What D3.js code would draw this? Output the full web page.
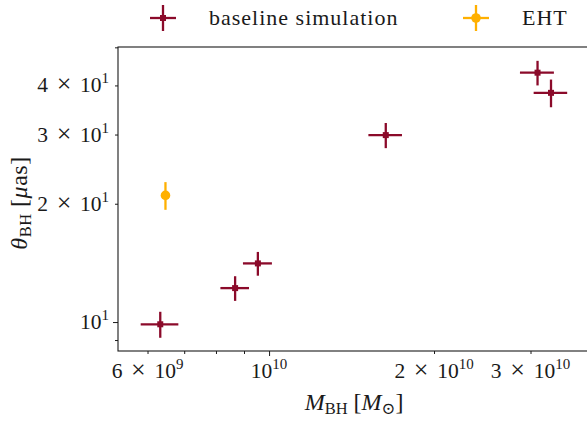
<!DOCTYPE html>
<html><head><meta charset="utf-8">
<script src="https://cdn.jsdelivr.net/npm/d3@7"></script>
<style>body{margin:0;background:#fff}svg{display:block}</style>
</head><body>
<svg id="c" width="587" height="423" font-family="Liberation Serif, DejaVu Serif, serif"></svg>
<script>
// ---- data ----
const simMass = [6.33e9, 8.67e9, 9.54e9, 1.633e10, 3.09e10, 3.27e10];
const simMassErr = [0.5e9, 0.52e9, 0.58e9, 1.15e9, 2.2e9, 2.3e9];
const simTheta = [9.87, 12.2, 14.1, 29.9, 43.1, 38.3];
const simThetaErr = [0.75, 0.88, 0.98, 2.2, 3.1, 3.1];
const ehtMass = [6.47e9];
const ehtMassErr = [0.1e9];
const ehtTheta = [21.0];
const ehtThetaErr = [1.7];
const xTickValues = [6e9, 1e10, 2e10, 3e10];
const xTickMant = ["6", "", "2", "3"];
const xTickExp = ["9", "10", "10", "10"];
const xMinorTicks = [6e9, 7e9, 8e9, 9e9, 2e10, 3e10];
const yTickValues = [10, 20, 30, 40];
const yTickMant = ["", "2", "3", "4"];
const yTickExp = ["1", "1", "1", "1"];
const yMinorTicks = [9, 20, 30, 40, 50];
const seriesNames = ["baseline simulation", "EHT"];
const simColor = "#8b0a2a", ehtColor = "#ffb000";

const svg = d3.select("#c");
const L = 118, R = 588, T = 47, B = 351;
const x = d3.scaleLog().domain([5.30e9, 3.82e10]).range([L, R]);
const y = d3.scaleLog().domain([8.44, 50.1]).range([B, T]);
const ink = "#1a1a1a";

// frame
svg.append("rect").attr("x", L).attr("y", T).attr("width", R - L).attr("height", B - T)
  .attr("fill", "none").attr("stroke", ink).attr("stroke-width", 1.1);

// x axis ticks
const gx = svg.append("g").attr("transform", `translate(0,${B})`);
gx.call(d3.axisBottom(x).tickValues([1e10]).tickSize(5).tickFormat(""));
const gxm = svg.append("g").attr("transform", `translate(0,${B})`);
gxm.call(d3.axisBottom(x).tickValues(xMinorTicks).tickSize(3).tickFormat(""));
[gx, gxm].forEach(g => { g.select(".domain").remove(); g.selectAll("line").attr("stroke", ink).attr("stroke-width", 1); });

function sciLabel(t, mant, exp) {
  if (mant) {
    t.append("tspan").text(mant);
    t.append("tspan").attr("font-size", 26).text("\u2004×\u2004");
    t.append("tspan").text("10");
  } else {
    t.append("tspan").text("10");
  }
  t.append("tspan").attr("dy", -9).attr("font-size", 15).text(exp);
}
xTickValues.forEach((v, i) => {
  const t = svg.append("text").attr("x", x(v)).attr("y", 378).attr("text-anchor", "middle")
    .attr("font-size", 21.5).attr("fill", ink);
  sciLabel(t, xTickMant[i], xTickExp[i]);
});

// y axis ticks
const gy = svg.append("g").attr("transform", `translate(${L},0)`);
gy.call(d3.axisLeft(y).tickValues([10]).tickSize(5).tickFormat(""));
const gym = svg.append("g").attr("transform", `translate(${L},0)`);
gym.call(d3.axisLeft(y).tickValues(yMinorTicks).tickSize(3).tickFormat(""));
[gy, gym].forEach(g => { g.select(".domain").remove(); g.selectAll("line").attr("stroke", ink).attr("stroke-width", 1); });

yTickValues.forEach((v, i) => {
  const t = svg.append("text").attr("x", 109).attr("y", y(v) + 7).attr("text-anchor", "end")
    .attr("font-size", 21.5).attr("fill", ink);
  sciLabel(t, yTickMant[i], yTickExp[i]);
});

// axis labels
const xl = svg.append("text").attr("x", 354).attr("y", 410).attr("text-anchor", "middle").attr("font-size", 24).attr("fill", ink);
xl.append("tspan").attr("font-style", "italic").text("M");
xl.append("tspan").attr("dy", 4).attr("font-size", 16.5).text("BH");
xl.append("tspan").attr("dy", -4).text(" [");
xl.append("tspan").attr("font-style", "italic").text("M");
xl.append("tspan").attr("dy", 4).attr("font-size", 16.5).text("⊙");
xl.append("tspan").attr("dy", -4).text("]");

const yl = svg.append("text").attr("transform", `translate(27,203) rotate(-90)`).attr("text-anchor", "middle").attr("font-size", 24).attr("letter-spacing", 0.5).attr("fill", ink);
yl.append("tspan").attr("font-style", "italic").text("θ");
yl.append("tspan").attr("dy", 4).attr("font-size", 16.5).text("BH");
yl.append("tspan").attr("dy", -4).text(" [");
yl.append("tspan").attr("font-style", "italic").text("μ");
yl.append("tspan").text("as]");

// sim points
const sim = simMass.map((m, i) => ({ m, me: simMassErr[i], t: simTheta[i], te: simThetaErr[i] }));
const gs = svg.append("g");
sim.forEach(d => {
  gs.append("line").attr("x1", x(d.m - d.me)).attr("x2", x(d.m + d.me)).attr("y1", y(d.t)).attr("y2", y(d.t))
    .attr("stroke", simColor).attr("stroke-width", 2.3);
  gs.append("line").attr("x1", x(d.m)).attr("x2", x(d.m)).attr("y1", y(d.t - d.te)).attr("y2", y(d.t + d.te))
    .attr("stroke", simColor).attr("stroke-width", 2.3);
  gs.append("rect").attr("x", x(d.m) - 3).attr("y", y(d.t) - 3).attr("width", 6).attr("height", 6).attr("fill", simColor);
});
// EHT
const eht = ehtMass.map((m, i) => ({ m, me: ehtMassErr[i], t: ehtTheta[i], te: ehtThetaErr[i] }));
eht.forEach(d => {
  gs.append("line").attr("x1", x(d.m - d.me)).attr("x2", x(d.m + d.me)).attr("y1", y(d.t)).attr("y2", y(d.t))
    .attr("stroke", ehtColor).attr("stroke-width", 2.3);
  gs.append("line").attr("x1", x(d.m)).attr("x2", x(d.m)).attr("y1", y(d.t - d.te)).attr("y2", y(d.t + d.te))
    .attr("stroke", ehtColor).attr("stroke-width", 2.3);
  gs.append("circle").attr("cx", x(d.m)).attr("cy", y(d.t)).attr("r", 4.8).attr("fill", ehtColor);
});

// legend
const lg = svg.append("g");
function legendCross(cx, cy, col, circle) {
  lg.append("line").attr("x1", cx - 13).attr("x2", cx + 13).attr("y1", cy).attr("y2", cy).attr("stroke", col).attr("stroke-width", 2.3);
  lg.append("line").attr("x1", cx).attr("x2", cx).attr("y1", cy - 13).attr("y2", cy + 13).attr("stroke", col).attr("stroke-width", 2.3);
  if (circle) lg.append("circle").attr("cx", cx).attr("cy", cy).attr("r", 4.8).attr("fill", col);
  else lg.append("rect").attr("x", cx - 3).attr("y", cy - 3).attr("width", 6).attr("height", 6).attr("fill", col);
}
legendCross(163, 18, simColor, false);
legendCross(476, 18, ehtColor, true);
lg.append("text").attr("x", 209).attr("y", 25).attr("font-size", 22).attr("letter-spacing", 1).attr("fill", ink).text(seriesNames[0]);
lg.append("text").attr("x", 522).attr("y", 25).attr("font-size", 22).attr("letter-spacing", 1).attr("fill", ink).text(seriesNames[1]);
</script>
</body></html>
